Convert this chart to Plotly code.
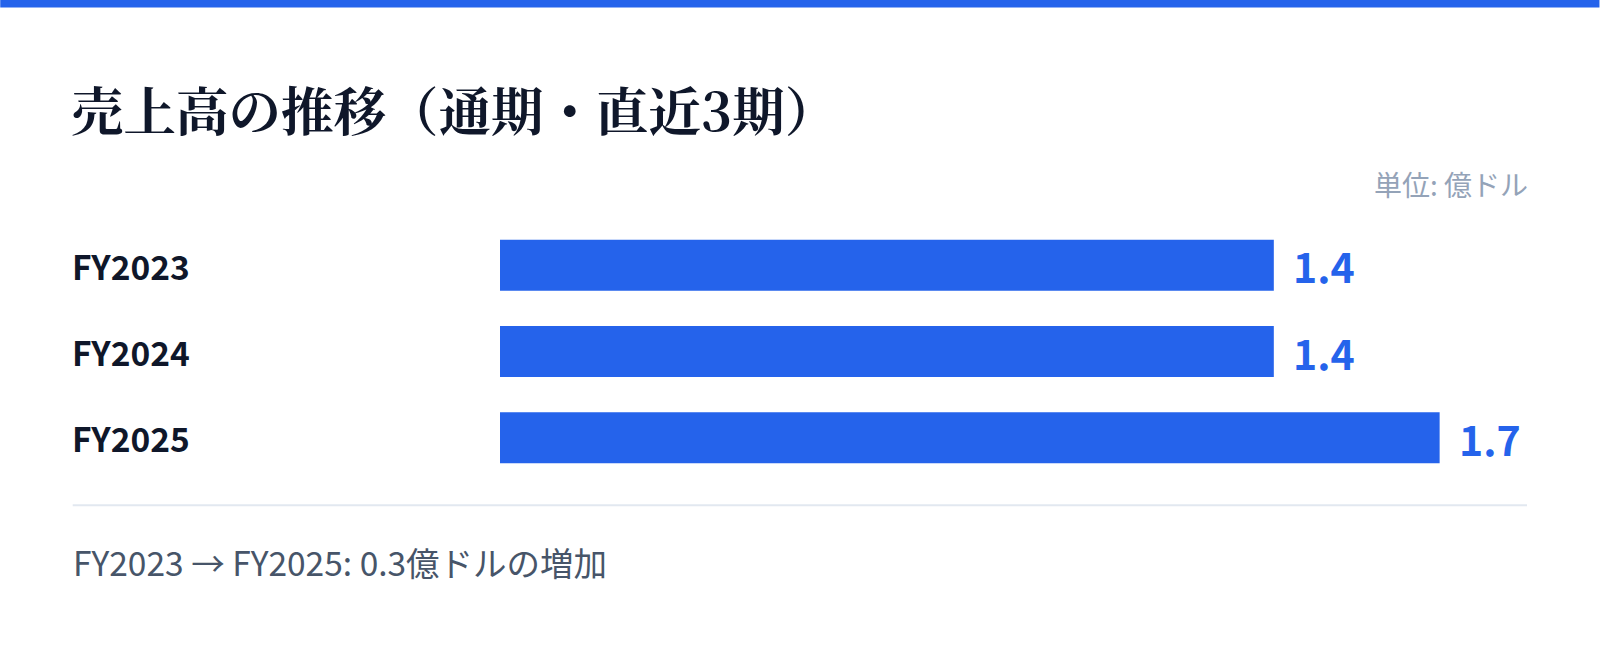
import plotly.graph_objects as go

categories = ["FY2023", "FY2024", "FY2025"]
values = [1.4, 1.4, 1.7]
value_labels = ["1.4", "1.4", "1.7"]
title_text = "売上高の推移（通期・直近3期）"
unit_text = "単位: 億ドル"
footer_text = "FY2023 → FY2025: 0.3億ドルの増加"

W, H = 1600, 647
L, R = 500, 1527.5
T, B = 222.2, 480.8
PX_PER_UNIT = 553.0
BLUE = "#2563EB"
SANS = "Noto Sans CJK JP"

def px_x(p):
    return (p - L) / (R - L)

def px_y(p):
    return (B - p) / (B - T)

fig = go.Figure()
fig.add_trace(go.Bar(
    x=values, y=categories, orientation="h",
    marker=dict(color=BLUE, line=dict(width=0)),
    width=0.59, hoverinfo="skip",
))

ann = []
for c, v, t in zip(categories, values, value_labels):
    ann.append(dict(x=v, y=c, xref="x", yref="y", text=t, showarrow=False,
                    xanchor="left", yanchor="middle", xshift=17,
                    font=dict(family=SANS, size=41, color=BLUE, weight="bold")))
    ann.append(dict(x=px_x(70), y=c, xref="paper", yref="y", text=c, showarrow=False,
                    xanchor="left", yanchor="middle",
                    font=dict(family=SANS, size=33.5, color="#0F172A", weight="bold")))

ann.append(dict(x=px_x(69), y=px_y(109), xref="paper", yref="paper", text=title_text,
                showarrow=False, xanchor="left", yanchor="middle",
                font=dict(family="Noto Serif CJK JP, serif", size=52.5, color="#0F172A", weight="bold")))
ann.append(dict(x=px_x(1530.5), y=px_y(184), xref="paper", yref="paper", text=unit_text,
                showarrow=False, xanchor="right", yanchor="middle",
                font=dict(family=SANS, size=28, color="#94A3B8")))
ann.append(dict(x=px_x(71), y=px_y(561), xref="paper", yref="paper", text=footer_text,
                showarrow=False, xanchor="left", yanchor="middle",
                font=dict(family=SANS, size=33.5, color="#475569")))

shapes = [
    dict(type="rect", xref="paper", yref="paper", x0=px_x(0), x1=px_x(W),
         y0=px_y(0), y1=px_y(8), fillcolor=BLUE, line=dict(width=0), layer="above"),
    dict(type="line", xref="paper", yref="paper", x0=px_x(72.5), x1=px_x(1527.5),
         y0=px_y(505), y1=px_y(505), line=dict(color="#E2E8F0", width=2)),
]

fig.update_layout(
    width=W, height=H,
    margin=dict(l=L, r=W - R, t=T, b=H - B, pad=0),
    paper_bgcolor="white", plot_bgcolor="white",
    showlegend=False,
    xaxis=dict(range=[0, (R - L) / PX_PER_UNIT], visible=False, fixedrange=True),
    yaxis=dict(autorange="reversed", showticklabels=False, showgrid=False,
               zeroline=False, showline=False, ticks="", fixedrange=True),
    annotations=ann, shapes=shapes,
)

fig.write_html("out.html", config={"displayModeBar": False},
               post_script="document.body.style.margin='0';document.body.style.overflow='hidden';")
